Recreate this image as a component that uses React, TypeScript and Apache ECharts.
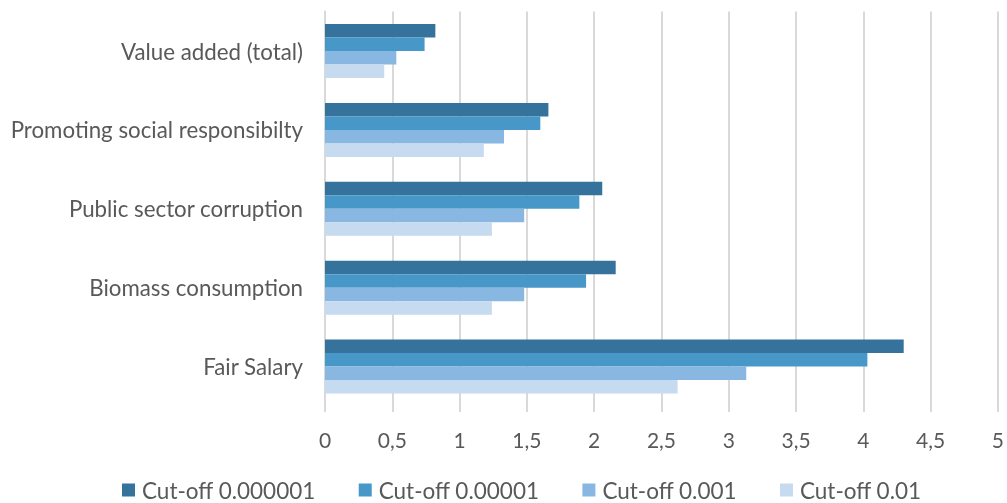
import React, { useEffect, useRef } from "react";
import * as echarts from "echarts";

const categories = [
  "Value added (total)",
  "Promoting social responsibilty",
  "Public sector corruption",
  "Biomass consumption",
  "Fair Salary",
];
const seriesNames = ["Cut-off 0.000001", "Cut-off 0.00001", "Cut-off 0.001", "Cut-off 0.01"];
const cut000001 = [0.82, 1.66, 2.06, 2.16, 4.3];
const cut00001 = [0.74, 1.6, 1.89, 1.94, 4.03];
const cut001 = [0.53, 1.33, 1.48, 1.48, 3.13];
const cut01 = [0.44, 1.18, 1.24, 1.24, 2.62];
const colors = ["#35739D", "#4798C9", "#88B8E2", "#C6DAF0"];

export default function App() {
  const ref = useRef<HTMLDivElement>(null);
  useEffect(() => {
    if (!ref.current) return;
    const chart = echarts.init(ref.current, undefined, { renderer: "svg" });
    const font = "Lato";
    const data = [cut000001, cut00001, cut001, cut01];
    chart.setOption({
      animation: false,
      color: colors,
      grid: { left: 325, right: 8.5, top: 11.6, bottom: 97, containLabel: false },
      legend: {
        left: 117,
        top: 476,
        padding: [2, 5],
        icon: "rect",
        itemWidth: 13,
        itemHeight: 13,
        itemGap: 43,
        textStyle: { fontFamily: font, fontSize: 22.5, lineHeight: 24, color: "#595959", padding: [0, 0, 0, 2] },
        data: seriesNames,
      },
      xAxis: {
        type: "value",
        min: 0,
        max: 5,
        interval: 0.5,
        axisLine: { show: false },
        axisTick: { show: true, length: 6, lineStyle: { color: "#D9D9D9", width: 2 } },
        splitLine: { show: true, lineStyle: { color: "#D9D9D9", width: 2 } },
        axisLabel: {
          margin: 23,
          fontFamily: font,
          fontSize: 21,
          color: "#595959",
          formatter: (v: number) => String(v).replace(".", ","),
        },
      },
      yAxis: {
        type: "category",
        inverse: true,
        data: categories,
        axisLine: { show: true, lineStyle: { color: "#D9D9D9", width: 2 } },
        axisTick: { show: false },
        axisLabel: { margin: 22, fontFamily: font, fontSize: 22.3, color: "#595959" },
      },
      series: seriesNames.map((name, i) => ({
        name,
        type: "bar",
        data: data[i],
        barGap: "0%",
        barCategoryGap: "31.6%",
      })),
    });
    return () => chart.dispose();
  }, []);
  return (
    <div
      ref={ref}
      style={{ position: "fixed", left: 0, top: 0, width: 1007, height: 503 }}
    />
  );
}
